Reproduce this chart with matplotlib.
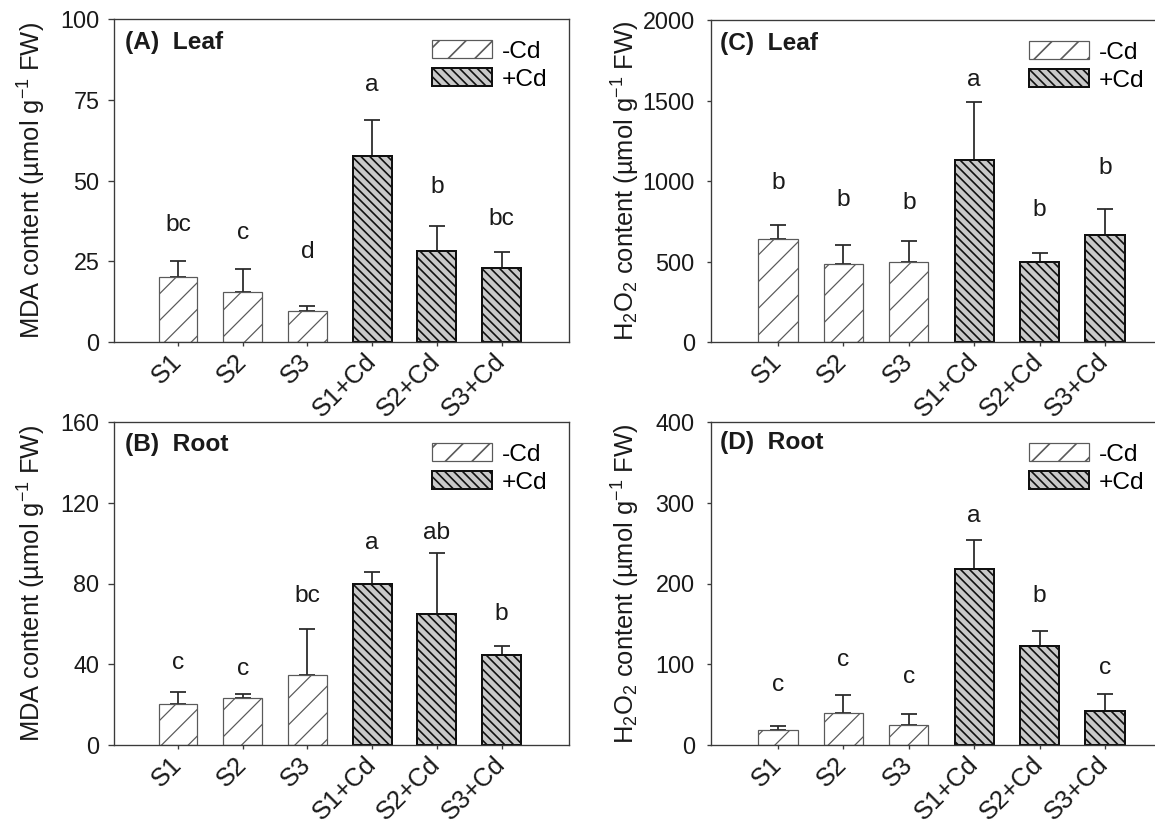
import matplotlib
matplotlib.use("Agg")
import matplotlib.pyplot as plt
import matplotlib.transforms as mtransforms
import numpy as np
from matplotlib.patches import Patch

# ---------------- data ----------------
categories = ["S1", "S2", "S3", "S1+Cd", "S2+Cd", "S3+Cd"]
is_cd = [False, False, False, True, True, True]

mda_leaf = [20.0, 15.5, 9.5, 57.5, 28.2, 23.0]
mda_leaf_err = [5.1, 7.2, 1.7, 11.2, 7.7, 4.9]
mda_leaf_letters = ["bc", "c", "d", "a", "b", "bc"]
mda_leaf_letter_y = [36.2, 33.6, 27.9, 79.5, 48.0, 38.2]

mda_root = [20.2, 23.5, 34.5, 80.0, 65.0, 44.6]
mda_root_err = [6.2, 2.0, 23.2, 5.6, 30.0, 4.2]
mda_root_letters = ["c", "c", "bc", "a", "ab", "b"]
mda_root_letter_y = [40.5, 37.5, 73.6, 100.0, 105.0, 65.0]

h2o2_leaf = [639, 484, 500, 1133, 494, 666]
h2o2_leaf_err = [85, 116, 127, 356, 56, 157]
h2o2_leaf_letters = ["b", "b", "b", "a", "b", "b"]
h2o2_leaf_letter_y = [990, 883, 862, 1628, 817, 1080]

h2o2_root = [18.6, 40.0, 24.4, 217.8, 122.7, 42.1]
h2o2_root_err = [5.0, 21.6, 14.4, 35.9, 18.6, 20.7]
h2o2_root_letters = ["c", "c", "c", "a", "b", "c"]
h2o2_root_letter_y = [74.4, 105.4, 84.7, 284.0, 185.0, 95.9]

yticks_A = [0, 25, 50, 75, 100]
yticks_B = [0, 40, 80, 120, 160]
yticks_C = [0, 500, 1000, 1500, 2000]
yticks_D = [0, 100, 200, 300, 400]

panel_titles = ["(A)  Leaf", "(B)  Root", "(C)  Leaf", "(D)  Root"]
legend_labels = ["-Cd", "+Cd"]

# ---------------- style ----------------
DPI = 160
W, H = 1155, 830
plt.rcParams["font.family"] = ["Liberation Sans", "DejaVu Sans"]
plt.rcParams["mathtext.fontset"] = "custom"
plt.rcParams["mathtext.rm"] = "Liberation Sans"
plt.rcParams["mathtext.it"] = "Liberation Sans"
plt.rcParams["mathtext.default"] = "regular"
FS = 11
TXT = "#1a1a1a"
SPINE = "#3a3a3a"

fig = plt.figure(figsize=(W / DPI, H / DPI), dpi=DPI)
fig.patch.set_facecolor("white")

def px2fig(x0, y0, x1, y1):
    return [x0 / W, 1 - y1 / H, (x1 - x0) / W, (y1 - y0) / H]

panels = [
    dict(rect=px2fig(114, 19, 569, 342), xlim=(-0.989, 6.043), right=True,
         vals=mda_leaf, err=mda_leaf_err, let=mda_leaf_letters, ly=mda_leaf_letter_y,
         yt=yticks_A, ylabel="MDA content (µmol g$^{-1}$ FW)", title=panel_titles[0],
         ytl=2.7, ypad=3.9, tdx=5, tdy=-24, ylx=-66),
    dict(rect=px2fig(114, 422, 569, 745), xlim=(-0.989, 6.043), right=True,
         vals=mda_root, err=mda_root_err, let=mda_root_letters, ly=mda_root_letter_y,
         yt=yticks_B, ylabel="MDA content (µmol g$^{-1}$ FW)", title=panel_titles[1],
         ytl=2.7, ypad=3.9, tdx=5, tdy=-23, ylx=-66),
    dict(rect=px2fig(711, 20, 1155, 342), xlim=(-1.024, 5.765), right=False,
         vals=h2o2_leaf, err=h2o2_leaf_err, let=h2o2_leaf_letters, ly=h2o2_leaf_letter_y,
         yt=yticks_C, ylabel="H$_2$O$_2$ content (µmol g$^{-1}$ FW)", title=panel_titles[2],
         ytl=1.8, ypad=5.5, tdx=4, tdy=-23, ylx=-69),
    dict(rect=px2fig(711, 422, 1155, 745), xlim=(-1.024, 5.765), right=False,
         vals=h2o2_root, err=h2o2_root_err, let=h2o2_root_letters, ly=h2o2_root_letter_y,
         yt=yticks_D, ylabel="H$_2$O$_2$ content (µmol g$^{-1}$ FW)", title=panel_titles[3],
         ytl=1.8, ypad=5.5, tdx=4, tdy=-21, ylx=-69),
]

H_NOCD = "//"
H_CD = "\\" * 6
NOCD = dict(facecolor="white", edgecolor="#5a5a5a", hatch=H_NOCD, lw=0.55, hlw=0.55)
CD = dict(facecolor="#c9c9c9", edgecolor="#111111", hatch=H_CD, lw=0.9, hlw=0.75)

def draw_bars(ax, xs, vals, st):
    plt.rcParams["hatch.linewidth"] = st["hlw"]
    bars = ax.bar(xs, vals, width=0.6, facecolor=st["facecolor"], edgecolor=st["edgecolor"],
                  hatch=st["hatch"], linewidth=st["lw"], zorder=2)
    for b in bars:
        if hasattr(b, "set_hatch_linewidth"):
            b.set_hatch_linewidth(st["hlw"])
    return bars

xoff = mtransforms.ScaledTranslation(7 / DPI, 1 / DPI, fig.dpi_scale_trans)

for p in panels:
    ax = fig.add_axes(p["rect"])
    x = np.arange(len(categories))
    vals = np.array(p["vals"], dtype=float)
    err = np.array(p["err"], dtype=float)
    m1 = np.array(is_cd)
    m0 = ~m1
    draw_bars(ax, x[m0], vals[m0], NOCD)
    draw_bars(ax, x[m1], vals[m1], CD)
    ax.errorbar(x, vals, yerr=[np.zeros_like(err), err], fmt="none", ecolor="#2a2a2a",
                elinewidth=0.8, capsize=3.5, capthick=0.8, zorder=1)
    for xi, lt, yy in zip(x, p["let"], p["ly"]):
        ax.text(xi, yy, lt, ha="center", va="center", fontsize=FS, color=TXT)
    ax.set_xlim(*p["xlim"])
    ax.set_ylim(0, p["yt"][-1])
    ax.set_yticks(p["yt"])
    ax.set_xticks(x)
    ax.set_xticklabels(categories, rotation=45, ha="right", va="center",
                       rotation_mode="anchor", fontsize=11.5, color=TXT)
    for lab in ax.get_xticklabels():
        lab.set_transform(lab.get_transform() + xoff)
    ax.tick_params(axis="x", direction="out", length=2, width=0.6, color=SPINE, pad=5)
    ax.tick_params(axis="y", direction="out", length=p["ytl"], width=0.6, color=SPINE,
                   pad=p["ypad"], labelsize=10.5, labelcolor=TXT)
    for s in ax.spines.values():
        s.set_color(SPINE)
        s.set_linewidth(0.6)
    if not p["right"]:
        ax.spines["right"].set_visible(False)
    ax.set_ylabel(p["ylabel"], fontsize=11.5, color=TXT)
    axw_px = p["rect"][2] * W
    ax.yaxis.set_label_coords(p["ylx"] / axw_px, 0.5)
    ax.annotate(p["title"], xy=(0, 1), xycoords="axes fraction",
                xytext=(p["tdx"] * 72 / DPI * 2.2, p["tdy"] * 72 / DPI),
                textcoords="offset points", ha="left", va="center",
                fontsize=FS, fontweight="bold", color=TXT)
    handles = [Patch(facecolor=NOCD["facecolor"], edgecolor=NOCD["edgecolor"], hatch=H_NOCD, lw=NOCD["lw"]),
               Patch(facecolor=CD["facecolor"], edgecolor=CD["edgecolor"], hatch=H_CD, lw=CD["lw"])]
    x0_px = p["rect"][0] * W + 318
    y0_px = (1 - p["rect"][1] - p["rect"][3]) * H + 21
    ax.legend(handles, legend_labels, loc="upper left",
              bbox_to_anchor=(x0_px / W, 1 - y0_px / H), bbox_transform=fig.transFigure,
              frameon=False, fontsize=FS, handlelength=2.45, handleheight=0.78,
              handletextpad=0.4, labelspacing=0.22, borderpad=0, borderaxespad=0)

fig.savefig("out.png", dpi=DPI, facecolor="white")
